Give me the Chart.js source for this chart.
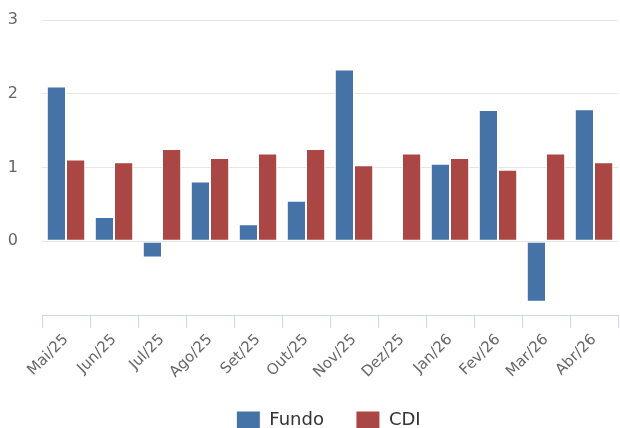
<!DOCTYPE html>
<html>
<head>
<meta charset="utf-8">
<script src="https://cdn.jsdelivr.net/npm/chart.js@4/dist/chart.umd.min.js"></script>
<style>
  html, body { margin: 0; padding: 0; background: #fff; overflow: hidden; }
  #wrap { width: 620px; height: 439px; position: relative; }
</style>
</head>
<body>
<div id="wrap"><canvas id="c"></canvas></div>
<script>
const categories = ["Mai/25","Jun/25","Jul/25","Ago/25","Set/25","Out/25","Nov/25","Dez/25","Jan/26","Fev/26","Mar/26","Abr/26"];
const fundo = [2.10, 0.33, -0.22, 0.81, 0.23, 0.55, 2.33, null, 1.05, 1.78, -0.82, 1.79];
const cdi = [1.11, 1.07, 1.25, 1.13, 1.19, 1.25, 1.03, 1.19, 1.13, 0.97, 1.19, 1.07];
const yTicks = [-1, 0, 1, 2, 3];

const FONT = "'DejaVu Sans', sans-serif";

const shiftLegend = {
  id: 'shiftLegend',
  afterLayout(chart) {
    const lg = chart.legend;
    if (lg) { lg.left += 19.5; lg.right += 19.5; }
  }
};

new Chart(document.getElementById('c'), {
  type: 'bar',
  data: {
    labels: categories,
    datasets: [
      { label: 'Fundo', data: fundo, backgroundColor: '#4572A7', borderColor: '#ffffff', borderWidth: 1, borderSkipped: false },
      { label: 'CDI', data: cdi, backgroundColor: '#AA4643', borderColor: '#ffffff', borderWidth: 1, borderSkipped: false }
    ]
  },
  plugins: [shiftLegend],
  options: {
    responsive: true,
    maintainAspectRatio: false,
    animation: false,
    layout: { padding: { top: 20, right: 2, left: 0, bottom: 0 } },
    datasets: { bar: { categoryPercentage: 0.8, barPercentage: 1.0 } },
    plugins: {
      tooltip: { enabled: false },
      legend: {
        position: 'bottom',
        labels: {
          boxWidth: 24, boxHeight: 18, padding: 32,
          color: '#333333',
          font: { family: FONT, size: 18 }
        }
      }
    },
    scales: {
      x: {
        offset: true,
        grid: { offset: true, drawOnChartArea: false, drawTicks: true, tickLength: 13, color: '#ccd6eb', lineWidth: 1 },
        border: { display: true, color: '#ccd6eb', width: 1 },
        ticks: { color: '#666666', font: { family: FONT, size: 15 }, maxRotation: 45, minRotation: 45, padding: 3 },
        afterFit: (s) => { s.height = 64; }
      },
      y: {
        min: -1, max: 3,
        afterBuildTicks: (s) => { s.ticks = yTicks.map(v => ({ value: v })); },
        afterFit: (s) => { s.width = 42; },
        border: { display: false },
        grid: {
          drawTicks: true, tickLength: 22, tickColor: 'rgba(0,0,0,0)',
          color: (ctx) => ctx.tick && ctx.tick.value === -1 ? 'rgba(0,0,0,0)' : '#e6e6e6', lineWidth: 1
        },
        ticks: {
          color: '#666666', font: { family: FONT, size: 16 }, padding: 2,
          callback: (v) => v === -1 ? '' : String(v)
        }
      }
    }
  }
});
</script>
</body>
</html>
